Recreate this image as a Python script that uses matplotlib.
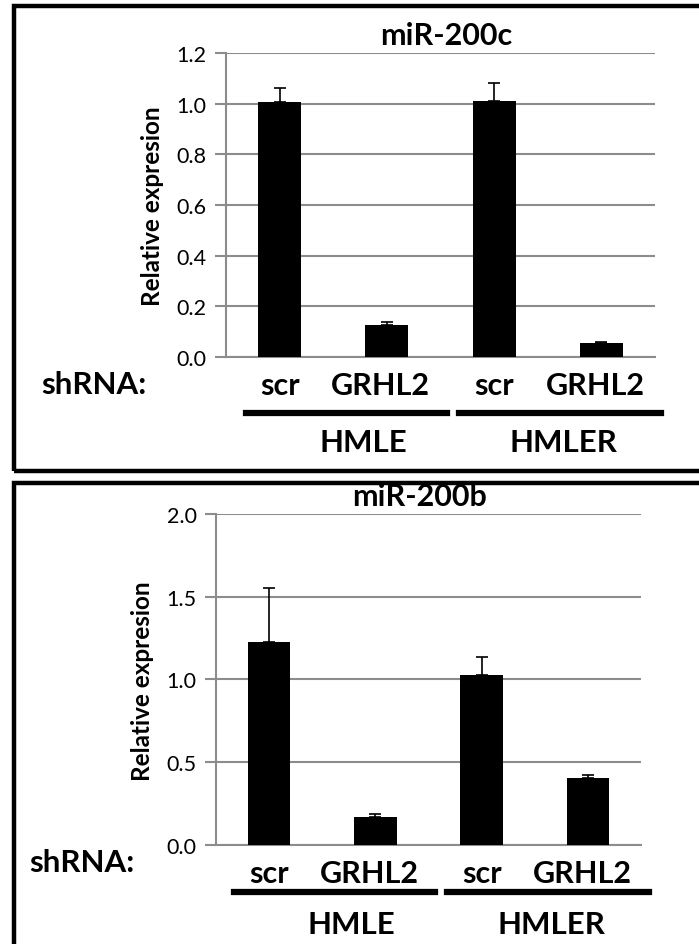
import numpy as np
import matplotlib.pyplot as plt
import matplotlib.transforms as mtransforms
from matplotlib.patches import Rectangle
from matplotlib.lines import Line2D

# qPCR data, relative expression (mean, upper error)
samples = ['scr', 'GRHL2', 'scr', 'GRHL2']
cell_lines = ['HMLE', 'HMLER']

mir200c = [1.008, 0.127, 1.011, 0.054]
mir200c_err = [0.053, 0.012, 0.069, 0.005]

mir200b = [1.227, 0.169, 1.028, 0.406]
mir200b_err = [0.322, 0.020, 0.109, 0.016]

W, H = 699, 945
plt.rcParams['font.family'] = ['Lato', 'DejaVu Sans']

fig = plt.figure(figsize=(W / 100, H / 100), dpi=100)


def fx(px):
    return px / W


def fy(py):
    return 1 - py / H


def panel(box, vals, errs, ymax, step, title, title_xy, ylab_xy,
          sh_xy, line_y, groups, group_y):
    left, top, right, bottom = box
    ax = fig.add_axes([fx(left), fy(bottom), fx(right - left), (bottom - top) / H])
    x = np.arange(len(vals))
    ax.bar(x, vals, width=0.4, color='black', zorder=3)
    ax.errorbar(x, vals, yerr=[np.zeros(len(errs)), errs], fmt='none',
                ecolor='black', elinewidth=1.2, capsize=4.5, capthick=1.2, zorder=4)
    ax.set_xlim(-0.5, len(vals) - 0.5)
    ax.set_ylim(0, ymax)
    ticks = np.arange(0, ymax + step / 2, step)
    ax.set_yticks(ticks)
    ax.set_yticklabels(['{:.1f}'.format(t) for t in ticks], fontsize=15.5)
    ax.yaxis.grid(True, color='#8c8c8c', linewidth=1.5, zorder=0)
    for s in ['top', 'right']:
        ax.spines[s].set_visible(False)
    for s in ['left', 'bottom']:
        ax.spines[s].set_color('#8c8c8c')
        ax.spines[s].set_linewidth(1.5)
    ax.tick_params(axis='y', length=8, width=1.5, color='#8c8c8c', pad=6)
    ax.set_xticks(x)
    ax.set_xticklabels(samples, fontsize=22, fontweight='bold')
    ax.tick_params(axis='x', length=0, pad=10)
    # GRHL2 labels sit a little left of their bars
    shift = mtransforms.ScaledTranslation(-6 / 100, 0, fig.dpi_scale_trans)
    for lbl in ax.get_xticklabels():
        if lbl.get_text() == 'GRHL2':
            lbl.set_transform(lbl.get_transform() + shift)

    fig.text(fx(title_xy[0]), fy(title_xy[1]), title, fontsize=22,
             fontweight='bold', ha='center', va='center')
    fig.text(fx(ylab_xy[0]), fy(ylab_xy[1]), 'Relative expresion', fontsize=17.5,
             fontweight='bold', rotation=90, ha='center', va='center')
    fig.text(fx(sh_xy[0]), fy(sh_xy[1]), 'shRNA:', fontsize=22.5,
             fontweight='bold', ha='left', va='center')
    for (x0, x1, cx), name in zip(groups, cell_lines):
        fig.add_artist(Line2D([fx(x0), fx(x1)], [fy(line_y), fy(line_y)],
                              color='black', linewidth=4.5))
        fig.text(fx(cx), fy(group_y), name, fontsize=22.5, fontweight='bold',
                 ha='center', va='center')
    return ax


panel((226, 54, 655, 358), mir200c, mir200c_err, 1.2, 0.2,
      'miR-200c', (446, 36), (152, 206), (41, 385), 413.5,
      [(246, 447, 363), (459, 661, 563)], 443)

panel((216, 514.7, 641, 846), mir200b, mir200b_err, 2.0, 0.5,
      'miR-200b', (419, 497), (143, 681), (29, 863), 893,
      [(234, 435, 351), (447, 649, 551)], 925)

# panel frames, running off the right edge
fig.add_artist(Rectangle((fx(14), fy(471.5)), fx(W + 20), (471.5 - 7) / H,
                         fill=False, edgecolor='black', linewidth=3.2,
                         transform=fig.transFigure))
fig.add_artist(Rectangle((fx(14), fy(H + 20)), fx(W + 20), (H + 20 - 483.5) / H,
                         fill=False, edgecolor='black', linewidth=3.2,
                         transform=fig.transFigure))

fig.savefig('out.png', dpi=100)
